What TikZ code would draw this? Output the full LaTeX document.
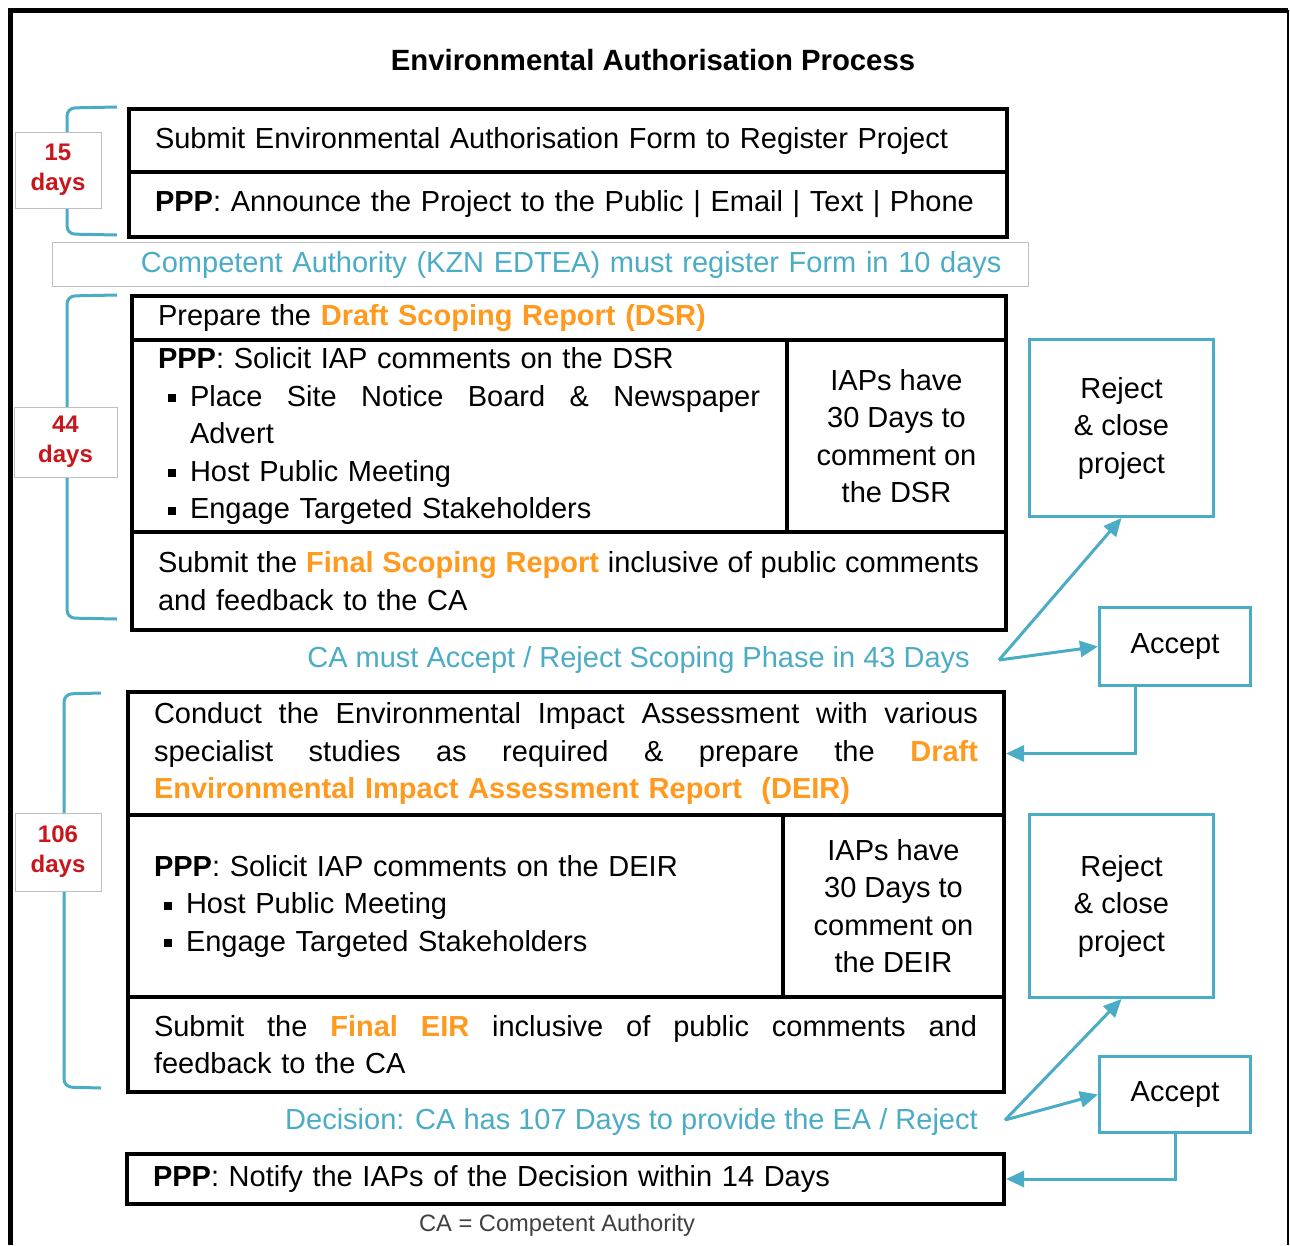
\documentclass[tikz,border=0pt]{standalone}
\usepackage{fontspec}
\setmainfont{Liberation Sans}
\usetikzlibrary{arrows.meta}

\definecolor{eateal}{HTML}{4BACC6}
\definecolor{eaorange}{HTML}{FF9A1E}
\definecolor{eared}{HTML}{C8161D}
\definecolor{eagrey}{HTML}{C0C0C0}
\definecolor{eanote}{HTML}{404040}

\newcommand{\hilite}[1]{\textcolor{eaorange}{\textbf{#1}}}
\newcommand{\sqbullet}{\hspace*{10pt}\makebox[22pt][l]{\rule[4pt]{8pt}{8pt}}}
\newcommand{\spreadline}[2]{\leavevmode\hbox to #1{\spaceskip=\fontdimen2\font plus 1fil minus \fontdimen4\font\relax #2}}

\tikzset{
  stage/.style={draw=black, line width=4pt, anchor=north west, inner xsep=26pt, inner ysep=0pt, align=left},
  cell/.style={draw=black, line width=4pt, anchor=north west, inner sep=0pt, align=center},
  outcome/.style={draw=eateal, line width=3pt, fill=white, anchor=north west, inner sep=0pt, align=center},
  daysbox/.style={draw=eagrey, line width=1pt, fill=white, inner sep=0pt, align=center,
    text=eared, font=\fontsize{24}{30}\selectfont\bfseries},
  bracket/.style={draw=eateal, line width=3pt, rounded corners=8pt},
  link/.style={draw=eateal, line width=3pt, -{Triangle[length=18pt,width=16pt]}},
  note/.style={text=eateal, inner sep=0pt},
}

\begin{document}
\begin{tikzpicture}[x=1pt, y=-1pt, font=\fontsize{29}{37.5}\selectfont]
  \useasboundingbox (0,0) rectangle (1290,1245);
  \fill[white] (0,0) rectangle (1290,1245);

  % frame
  \draw[line width=5pt] (10,1245) -- (10,10) -- (1288,10);
  \draw[line width=2pt] (1288,10) -- (1288,1245);

  \node[font=\fontsize{29.3}{34}\selectfont\bfseries] (title) at (653,60) {Environmental Authorisation Process};

  % registration
  \draw[bracket] (117,107) -- (67,108) -- (67,234) -- (117,235);
  \node[daysbox, minimum width=86pt, minimum height=76pt] (days1) at (58,170) {15\\days};
  \node[stage, minimum width=878pt, minimum height=63pt, text width=826pt] (reg) at (127,107)
    {Submit Environmental Authorisation Form to Register Project};
  \node[stage, minimum width=878pt, minimum height=65pt, text width=826pt] (announce) at (127,170)
    {\textbf{PPP}: Announce the Project to the Public | Email | Text | Phone};
  \node[draw=eagrey, line width=1pt, anchor=north west, minimum width=976pt, minimum height=44pt,
    inner xsep=27pt, inner ysep=0pt, text width=922pt, align=right, text=eateal] (register) at (52,242)
    {Competent Authority (KZN EDTEA) must register Form in 10 days};

  % scoping
  \draw[bracket] (117,295) -- (67,296) -- (67,618) -- (117,619);
  \node[daysbox, minimum width=103pt, minimum height=70pt] (days2) at (65.5,442) {44\\days};
  \node[stage, minimum width=874pt, minimum height=44pt, text width=822pt] (dsr) at (130,294)
    {Prepare the \hilite{Draft Scoping Report (DSR)}};
  \node[stage, minimum width=655pt, minimum height=192pt, text width=603pt] (solicit1) at (130,338)
    {\textbf{PPP}: Solicit IAP comments on the DSR\\
     \sqbullet\spreadline{570pt}{Place Site Notice Board \& Newspaper}\\
     \hspace*{32pt}Advert\\
     \sqbullet Host Public Meeting\\
     \sqbullet Engage Targeted Stakeholders};
  \node[cell, minimum width=219pt, minimum height=192pt] (iap1) at (785,338)
    {IAPs have\\30 Days to\\comment on\\the DSR};
  \node[stage, minimum width=874pt, minimum height=98pt, text width=822pt] (fsr) at (130,530)
    {\spreadline{821pt}{Submit the \hilite{Final Scoping Report} inclusive of public comments}\\
     and feedback to the CA};

  \node[outcome, minimum width=184pt, minimum height=177pt] (reject1) at (1028,338)
    {Reject\\\& close\\project};
  \node[outcome, minimum width=151pt, minimum height=78pt] (accept1) at (1098,606) {Accept};
  \node[note, anchor=east] (scoping) at (970,660)
    {CA must Accept / Reject Scoping Phase in 43 Days};
  \coordinate (fork1) at (999,660);

  % impact assessment
  \draw[bracket] (101,693) -- (64,694) -- (64,1087) -- (101,1088);
  \node[daysbox, minimum width=86pt, minimum height=78pt] (days3) at (58,852) {106\\days};
  \node[stage, minimum width=876pt, minimum height=123pt, text width=824pt] (eia) at (126,690)
    {\spreadline{824pt}{Conduct the Environmental Impact Assessment with various}\\
     \spreadline{824pt}{specialist studies as required \& prepare the \hilite{Draft}}\\
     \hilite{Environmental Impact Assessment Report\ \ (DEIR)}};
  \node[stage, minimum width=655pt, minimum height=182pt, text width=603pt] (solicit2) at (126,813)
    {\textbf{PPP}: Solicit IAP comments on the DEIR\\
     \sqbullet Host Public Meeting\\
     \sqbullet Engage Targeted Stakeholders};
  \node[cell, minimum width=221pt, minimum height=182pt] (iap2) at (781,813)
    {IAPs have\\30 Days to\\comment on\\the DEIR};
  \node[stage, minimum width=876pt, minimum height=95pt, text width=824pt] (feir) at (126,995)
    {\spreadline{823pt}{Submit the \hilite{Final EIR} inclusive of public comments and}\\
     feedback to the CA};

  \node[outcome, minimum width=184pt, minimum height=183pt] (reject2) at (1028,813)
    {Reject\\\& close\\project};
  \node[outcome, minimum width=151pt, minimum height=76pt] (accept2) at (1098,1055) {Accept};
  \node[note, anchor=east] (decision) at (978,1122)
    {Decision: CA has 107 Days to provide the EA / Reject};
  \coordinate (fork2) at (1005,1120);

  % decision
  \node[stage, minimum width=877pt, minimum height=50pt, text width=825pt] (notify) at (125,1152)
    {\textbf{PPP}: Notify the IAPs of the Decision within 14 Days};
  \node[text=eanote, font=\fontsize{23.7}{26}\selectfont] (legend) at (557,1225) {CA = Competent Authority};

  % connectors
  \draw[link] (fork1) -- (reject1.south);
  \draw[link] (fork1) -- (accept1.west);
  \draw[link] ([xshift=-40pt]accept1.south) |- (eia.east);
  \draw[link] (fork2) -- (reject2.south);
  \draw[link] (fork2) -- (accept2.west);
  \draw[link] (accept2.south) |- (notify.east);
\end{tikzpicture}
\end{document}
